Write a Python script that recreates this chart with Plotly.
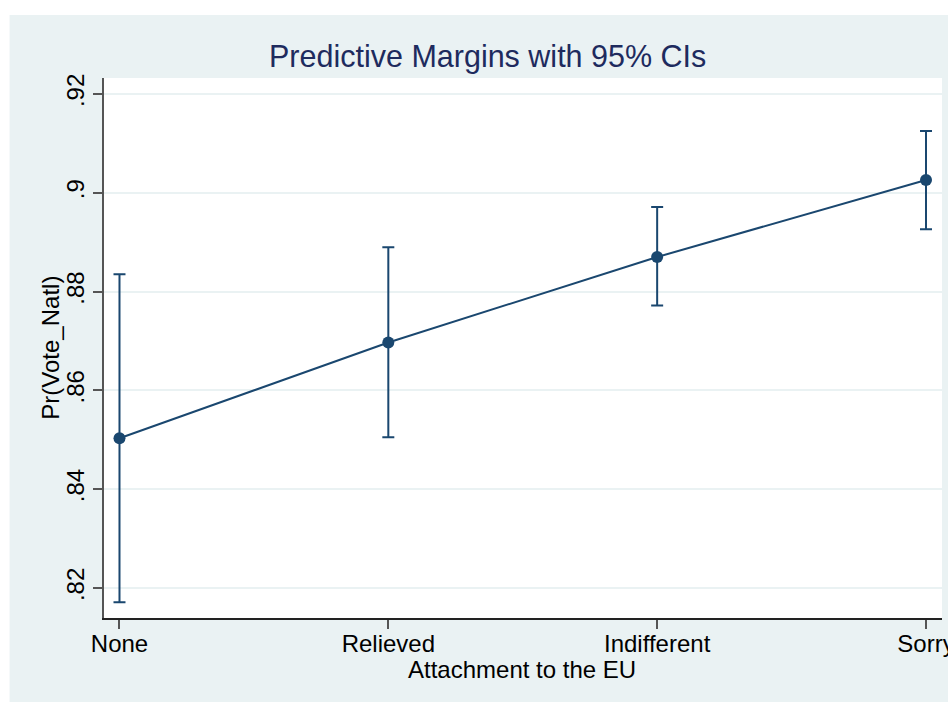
import plotly.graph_objects as go

categories = ["None", "Relieved", "Indifferent", "Sorry"]
margins = [0.8503, 0.8697, 0.8870, 0.9026]
ci_lower = [0.8171, 0.8505, 0.8772, 0.8926]
ci_upper = [0.8835, 0.8890, 0.8971, 0.9125]
y_tickvals = [0.82, 0.84, 0.86, 0.88, 0.90, 0.92]
y_ticktext = [".82", ".84", ".86", ".88", ".9", ".92"]

x_pos = list(range(len(categories)))
err_plus = [u - m for u, m in zip(ci_upper, margins)]
err_minus = [m - l for m, l in zip(margins, ci_lower)]

NAVY = "#1A476F"
BG = "#EAF2F3"
FONT = "Liberation Sans, Arial, Helvetica, sans-serif"

W, H = 948, 702
L, T = 103.5, 78
R = W - 942
B = H - 617.7
pw, ph = W - L - R, H - T - B

def px_x(sx):
    return (sx - L) / pw

def px_y(sy):
    return (H - sy - B) / ph

fig = go.Figure()
fig.add_trace(go.Scatter(
    x=x_pos, y=margins, mode="lines+markers",
    line=dict(color=NAVY, width=2),
    marker=dict(color=NAVY, size=12),
    error_y=dict(type="data", array=err_plus, arrayminus=err_minus,
                 symmetric=False, color=NAVY, thickness=2, width=6),
    showlegend=False,
))

fig.update_layout(
    width=W, height=H,
    margin=dict(l=L, r=R, t=T, b=B, pad=0, autoexpand=False),
    paper_bgcolor=BG, plot_bgcolor="white",
    font=dict(family=FONT, color="black", size=24),
    shapes=[
        dict(type="rect", xref="paper", yref="paper", x0=-0.3, x1=1.2,
             y0=px_y(15), y1=1.3, fillcolor="white", line=dict(width=0), layer="below"),
        dict(type="rect", xref="paper", yref="paper", x0=-0.3, x1=px_x(9),
             y0=-0.3, y1=1.3, fillcolor="white", line=dict(width=0), layer="below"),
    ],
    annotations=[
        dict(text="Predictive Margins with 95% CIs", xref="paper", yref="paper",
             x=px_x(487.5), y=px_y(57), xanchor="center", yanchor="middle",
             showarrow=False, font=dict(size=30.5, color="#1E2B5E", family=FONT)),
        dict(text="Pr(Vote_Natl)", xref="paper", yref="paper",
             x=px_x(50), y=px_y(348), xanchor="center", yanchor="middle",
             textangle=-90, showarrow=False, font=dict(size=24, color="black", family=FONT)),
        dict(text="Attachment to the EU", xref="paper", yref="paper",
             x=px_x(522), y=px_y(669), xanchor="center", yanchor="middle",
             showarrow=False, font=dict(size=24, color="black", family=FONT)),
    ],
)

fig.update_xaxes(
    tickvals=x_pos, ticktext=categories, range=[-0.0576, 3.0595],
    showgrid=False, zeroline=False, automargin=False,
    showline=True, linecolor="#222222", linewidth=1.5,
    ticks="outside", ticklen=9, tickwidth=1.5, tickcolor="#555555",
    ticklabelstandoff=-6, ticklabeloverflow="allow",
    tickfont=dict(size=24, color="black", family=FONT),
)
fig.update_yaxes(
    tickvals=y_tickvals, ticktext=y_ticktext, range=[0.81392, 0.92324],
    tickangle=-90, automargin=False,
    showgrid=True, gridcolor=BG, gridwidth=1.5, zeroline=False,
    showline=True, linecolor="#555555", linewidth=1.5,
    ticks="outside", ticklen=9, tickwidth=1.5, tickcolor="#555555",
    tickfont=dict(size=24, color="black", family=FONT),
)

fig.write_html(
    "out.html",
    config={"displayModeBar": False},
    post_script="document.body.style.margin='0';document.body.style.overflow='hidden';",
)
